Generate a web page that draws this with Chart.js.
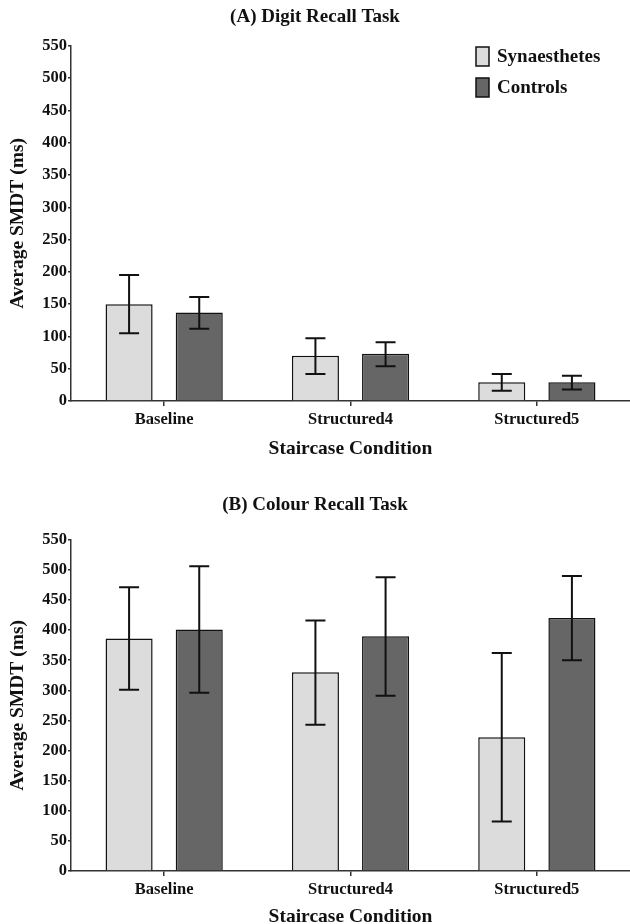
<!DOCTYPE html>
<html>
<head>
<meta charset="utf-8">
<script src="https://cdn.jsdelivr.net/npm/chart.js@4.4.1/dist/chart.umd.min.js"></script>
<style>
  html, body { margin: 0; padding: 0; background: #fff; }
  .panel { position: relative; width: 630px; height: 462px; }
</style>
</head>
<body>
<div class="panel"><canvas id="chartDigit"></canvas></div>
<div class="panel"><canvas id="chartColour"></canvas></div>
<script>
// du lieu doc tu hinh
const categories = ['Baseline', 'Structured4', 'Structured5'];
const seriesNames = ['Synaesthetes', 'Controls'];

const digitSyn     = [150, 70, 29];
const digitSynLow  = [105, 42, 16];
const digitSynHigh = [195, 97, 42];
const digitCtrl     = [137, 73, 29];
const digitCtrlLow  = [112, 54, 18];
const digitCtrlHigh = [161, 91, 39];

const colourSyn     = [386, 330, 222];
const colourSynLow  = [301, 243, 82];
const colourSynHigh = [471, 416, 362];
const colourCtrl     = [401, 390, 420];
const colourCtrlLow  = [296, 291, 350];
const colourCtrlHigh = [506, 488, 490];

const yTicks = [0, 50, 100, 150, 200, 250, 300, 350, 400, 450, 500, 550];

const COLORS = { syn: '#dcdcdc', ctrl: '#666666', line: '#111111', axis: '#333333' };
const FONT = "'Liberation Serif', 'Times New Roman', serif";

/** Ve error bar (thanh dung + 2 nap) len moi cot, dung scale cua chart. */
const errorBarPlugin = {
    id: 'errorBars',
    afterDatasetsDraw(chart) {
        const ctx = chart.ctx;
        const y = chart.scales.y;
        ctx.save();
        ctx.strokeStyle = COLORS.line;
        ctx.lineWidth = 2;
        chart.data.datasets.forEach((ds, i) => {
            const meta = chart.getDatasetMeta(i);
            meta.data.forEach((bar, j) => {
                const top = y.getPixelForValue(ds.errHigh[j]);
                const bot = y.getPixelForValue(ds.errLow[j]);
                const half = 10;
                ctx.beginPath();
                ctx.moveTo(bar.x, top); ctx.lineTo(bar.x, bot);
                ctx.moveTo(bar.x - half, top); ctx.lineTo(bar.x + half, top);
                ctx.moveTo(bar.x - half, bot); ctx.lineTo(bar.x + half, bot);
                ctx.stroke();
            });
        });
        ctx.restore();
    }
};

/** Legend tu ve o goc tren ben phai (chi panel A). */
const boxLegendPlugin = {
    id: 'boxLegend',
    afterDraw(chart, args, opts) {
        if (!opts.show) return;
        const ctx = chart.ctx;
        ctx.save();
        ctx.font = 'bold 19px ' + FONT;
        ctx.textBaseline = 'middle';
        chart.data.datasets.forEach((ds, i) => {
            const cy = 56 + i * 31;
            ctx.fillStyle = ds.backgroundColor;
            ctx.fillRect(476, cy - 9, 13, 19);
            ctx.strokeStyle = COLORS.line;
            ctx.lineWidth = 1.5;
            ctx.strokeRect(476, cy - 9, 13, 19);
            ctx.fillStyle = '#111';
            ctx.fillText(ds.label, 497, cy + 1);
        });
        ctx.restore();
    }
};

function makeChart(id, title, syn, synLo, synHi, ctrl, ctrlLo, ctrlHi, cfg) {
    const ctx = document.getElementById(id).getContext('2d');
    return new Chart(ctx, {
        type: 'bar',
        data: {
            labels: categories,
            datasets: [
                { label: seriesNames[0], data: syn, errLow: synLo, errHigh: synHi,
                  backgroundColor: COLORS.syn, borderColor: COLORS.line, borderWidth: 1.5 },
                { label: seriesNames[1], data: ctrl, errLow: ctrlLo, errHigh: ctrlHi,
                  backgroundColor: COLORS.ctrl, borderColor: COLORS.line, borderWidth: 1.5 },
            ],
        },
        options: {
            responsive: true,
            maintainAspectRatio: false,
            animation: false,
            categoryPercentage: 0.753,
            barPercentage: 0.671,
            layout: { padding: { left: 0, right: 0, top: 0, bottom: 0 } },
            plugins: {
                legend: { display: false },
                tooltip: { enabled: false },
                title: {
                    display: true, text: title, color: '#111',
                    font: { family: FONT, size: 19, weight: 'bold' },
                    padding: { top: cfg.titleTop, bottom: cfg.titleBottom },
                },
                boxLegend: { show: cfg.legend },
            },
            scales: {
                x: {
                    offset: true,
                    afterFit: s => { s.height = cfg.xHeight; },
                    grid: { offset: false, drawOnChartArea: false, drawTicks: true, tickLength: 5, color: COLORS.axis, lineWidth: 1.5 },
                    border: { display: true, color: COLORS.axis, width: 1.5 },
                    ticks: { color: '#111', padding: 4, font: { family: FONT, size: 16.5, weight: 'bold' } },
                    title: { display: true, text: 'Staircase Condition', color: '#111',
                             font: { family: FONT, size: 19.5, weight: 'bold', lineHeight: 0.7 },
                             padding: { top: 8, bottom: cfg.xTitleBottom } },
                },
                y: {
                    min: 0, max: 550,
                    afterBuildTicks: s => { s.ticks = yTicks.map(v => ({ value: v })); },
                    afterFit: s => { s.width = 71; },
                    grid: { drawOnChartArea: false, drawTicks: true, tickLength: 3, color: COLORS.axis, lineWidth: 1.5 },
                    border: { display: true, color: COLORS.axis, width: 1.5 },
                    ticks: { color: '#111', padding: 1, font: { family: FONT, size: 16.5, weight: 'bold' } },
                    title: { display: true, text: 'Average SMDT (ms)', color: '#111',
                             font: { family: FONT, size: 19.5, weight: 'bold' }, padding: { top: 6, bottom: 0 } },
                },
            },
        },
        plugins: [errorBarPlugin, boxLegendPlugin],
    });
}

makeChart('chartDigit', '(A) Digit Recall Task',
    digitSyn, digitSynLow, digitSynHigh, digitCtrl, digitCtrlLow, digitCtrlHigh,
    { titleTop: 6, titleBottom: 17, legend: true, xHeight: 61, xTitleBottom: 6 });
makeChart('chartColour', '(B) Colour Recall Task',
    colourSyn, colourSynLow, colourSynHigh, colourCtrl, colourCtrlLow, colourCtrlHigh,
    { titleTop: 31.5, titleBottom: 23.5, legend: false, xHeight: 53, xTitleBottom: 0 });
</script>
</body>
</html>
